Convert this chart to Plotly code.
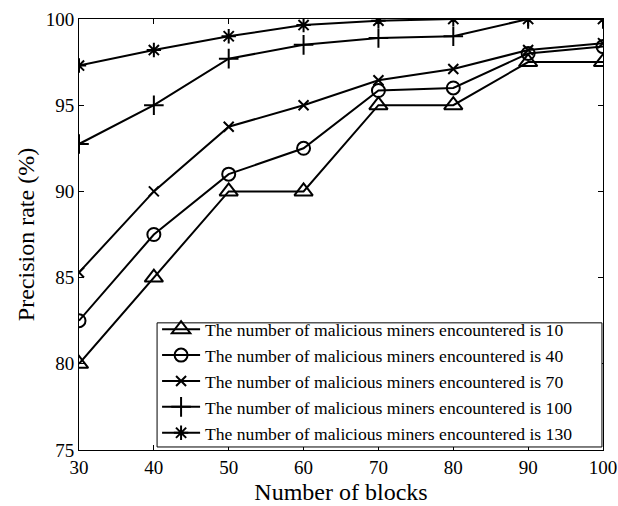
import plotly.graph_objects as go

blocks = [30, 40, 50, 60, 70, 80, 90, 100]
prec_10 = [80.0, 85.0, 90.0, 90.0, 95.0, 95.0, 97.5, 97.5]
prec_40 = [82.5, 87.5, 91.0, 92.5, 95.85, 96.0, 98.0, 98.4]
prec_70 = [85.3, 90.0, 93.75, 95.0, 96.45, 97.1, 98.2, 98.6]
prec_100 = [92.75, 95.0, 97.7, 98.5, 98.9, 99.0, 100.0, 100.0]
prec_130 = [97.3, 98.2, 99.0, 99.65, 99.9, 100.0, 100.0, 100.0]
miners = [10, 40, 70, 100, 130]

x_ticks = [30, 40, 50, 60, 70, 80, 90, 100]
y_ticks = [75, 80, 85, 90, 95, 100]

series = [prec_10, prec_40, prec_70, prec_100, prec_130]
symbols = ["triangle-up-open", "circle-open", "x-thin-open", "cross-thin-open", "asterisk-open"]
sizes = [16, 13, 10, 14, 12]

FONT = "Liberation Serif"

fig = go.Figure()
for n, ys, sym, sz in zip(miners, series, symbols, sizes):
    fig.add_trace(go.Scatter(
        x=blocks, y=ys, mode="lines+markers",
        name=f"The number of malicious miners encountered is {n}",
        line=dict(color="black", width=2),
        marker=dict(symbol=sym, size=sz, color="black",
                    line=dict(color="black", width=2)),
    ))

axis_common = dict(
    showline=True, linecolor="black", linewidth=1, mirror="ticks",
    ticks="inside", ticklen=5, tickcolor="black", tickwidth=1,
    showgrid=False, zeroline=False,
    tickfont=dict(family=FONT, size=19, color="black"),
)

# framed white box behind the legend entries
fig.add_shape(type="rect", xref="paper", yref="paper",
              x0=0.149, x1=0.998, y0=0.007, y1=0.295,
              line=dict(color="black", width=1), fillcolor="white", layer="above")

fig.update_layout(
    width=618, height=506,
    margin=dict(l=79, r=15, t=19, b=56, autoexpand=False),
    paper_bgcolor="white", plot_bgcolor="white",
    font=dict(family=FONT, color="black"),
    xaxis=dict(range=[30, 100], tickvals=x_ticks,
               title=dict(text="Number of blocks", font=dict(family=FONT, size=24), standoff=6),
               **axis_common),
    yaxis=dict(range=[75, 100], tickvals=y_ticks,
               title=dict(text="Precision rate (%)", font=dict(family=FONT, size=24), standoff=4),
               **axis_common),
    legend=dict(x=0.149, y=-0.003, xanchor="left", yanchor="bottom",
                bgcolor="rgba(0,0,0,0)", borderwidth=0,
                font=dict(family=FONT, size=17.6, color="black"),
                tracegroupgap=0, itemwidth=38),
    showlegend=True,
)

fig.write_html("out.html")
